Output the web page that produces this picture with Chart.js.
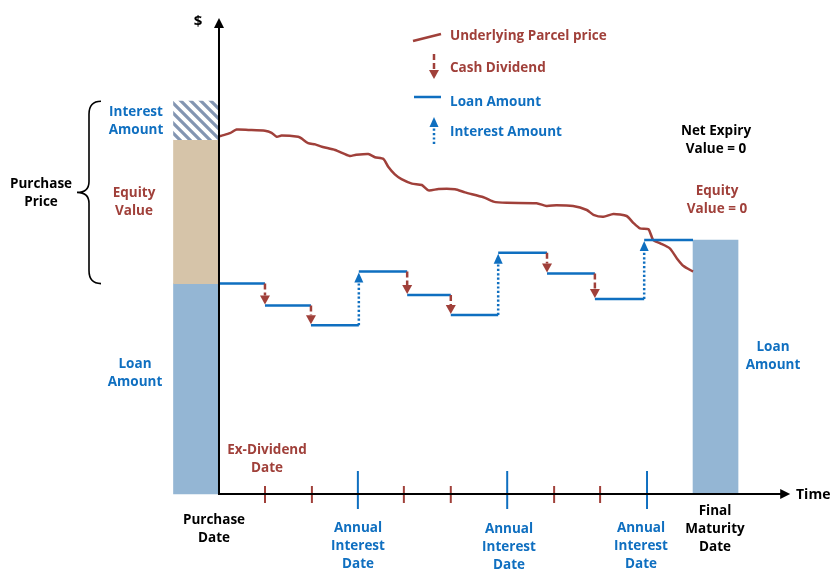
<!DOCTYPE html>
<html><head><meta charset="utf-8">
<script src="https://cdn.jsdelivr.net/npm/chart.js@4"></script>
<style>html,body{margin:0;padding:0;background:#fff}#wrap{position:absolute;left:0;top:0;width:830px;height:570px}</style>
</head><body><div id="wrap"><canvas id="c"></canvas></div>
<script>
// ---- data (x: time periods from purchase date, y: $ value) ----
const priceX = [0,0.06,0.23,0.37,0.62,0.97,1.11,1.22,1.32,1.67,1.74,1.88,2.03,2.17,2.45,2.76,2.87,3.15,3.29,3.47,3.57,3.71,3.85,4.07,4.28,4.42,4.63,4.98,5.19,5.58,5.79,6.07,6.70,6.91,7.12,7.47,7.76,7.90,8.11,8.32,8.60,8.74,8.88,9.06,9.16,9.30,9.51,9.66,9.80,10.0];
const priceY = [89.4,89.6,90.2,91.1,91.0,90.8,90.3,89.3,89.6,89.3,88.9,87.7,87.4,86.8,86.0,84.5,84.75,85.0,84.2,83.75,81.8,79.9,78.7,77.6,77.25,75.9,76.25,76.2,75.4,74.2,73.1,72.8,72.7,72.0,72.2,72.0,71.0,69.8,69.3,70.0,69.5,67.8,66.4,66.2,63.5,62.7,61.4,58.9,57.0,55.6];
const loanStepX = [0,0.97,1.94,2.95,3.97,4.89,5.89,6.92,7.93,8.97,10];
const loanLevels = [52.6,47.1,42.2,55.6,49.75,44.75,60.3,55.1,48.75,63.5];
const stepEvents = ['D','D','I','D','D','I','D','D','I'];
const dividendTicks = [0.97,1.96,3.9,4.89,7.07,8.04];
const interestTicks = [2.93,6.08,9.03];
const barCenters = [-0.485,-0.485,-0.485,10.475];
const barRanges = [[0,52.6],[52.6,88.6],[88.6,98.2],[0,63.5]];
const xAxisEnd = 12.05, yAxisEnd = 119;

const BROWN = '#A0403A', BLUE = '#0F6FC0', LOANBAR = '#94B6D4', TAN = '#D6C4A9';
const FONT = 'bold 13.5px "Open Sans"';

function hatch(){
  const c=document.createElement('canvas'); c.width=c.height=10;
  const g=c.getContext('2d'); g.fillStyle='#fff'; g.fillRect(0,0,10,10);
  g.strokeStyle='#8395B2'; g.lineWidth=3.2; g.beginPath();
  g.moveTo(-3,-3); g.lineTo(13,13); g.moveTo(-3,7); g.lineTo(3,13); g.moveTo(7,-3); g.lineTo(13,3); g.stroke();
  return g.createPattern(c,'repeat');
}

const loanPts = [];
for (let i=0;i<loanLevels.length;i++){
  loanPts.push({x:loanStepX[i],y:loanLevels[i]},{x:loanStepX[i+1],y:loanLevels[i]});
  if (i<loanLevels.length-1) loanPts.push({x:loanStepX[i+1],y:null});
}

function arrow(ctx,x,y1,y2,color,dash,headW,headH){
  const dir = y2>y1?1:-1;
  ctx.save(); ctx.strokeStyle=color; ctx.fillStyle=color; ctx.lineWidth=2.5; ctx.setLineDash(dash);
  ctx.beginPath(); ctx.moveTo(x,y1); ctx.lineTo(x,y2-dir*headH); ctx.stroke();
  ctx.setLineDash([]); ctx.beginPath(); ctx.moveTo(x,y2); ctx.lineTo(x-headW/2,y2-dir*headH); ctx.lineTo(x+headW/2,y2-dir*headH); ctx.closePath(); ctx.fill();
  ctx.restore();
}
function text(ctx,lines,cx,cy,color,align,font){
  ctx.save(); ctx.font=font||FONT; ctx.fillStyle=color; ctx.textAlign=align||'center'; ctx.textBaseline='middle';
  lines.forEach((l,i)=>ctx.fillText(l,cx,cy+i*18)); ctx.restore();
}

const overlay = {
  id:'overlay',
  afterDatasetsDraw(chart){
    const {ctx, scales:{x,y}} = chart;
    const px=v=>x.getPixelForValue(v), py=v=>y.getPixelForValue(v);
    const x0=px(0), y0=py(0);
    ctx.save(); ctx.lineWidth=2;
    ctx.strokeStyle=BROWN; dividendTicks.forEach(t=>{ctx.beginPath();ctx.moveTo(px(t),y0-8);ctx.lineTo(px(t),y0+9);ctx.stroke();});
    ctx.strokeStyle=BLUE; interestTicks.forEach(t=>{ctx.beginPath();ctx.moveTo(px(t),y0-23);ctx.lineTo(px(t),y0+15);ctx.stroke();});
    ctx.restore();
    for (let i=1;i<loanLevels.length;i++){
      const xs=px(loanStepX[i]);
      if (stepEvents[i-1]==='D') arrow(ctx,xs,py(loanLevels[i-1]),py(loanLevels[i])-1,BROWN,[6,3],10,9);
      else arrow(ctx,xs,py(loanLevels[i-1]),py(loanLevels[i])+1,BLUE,[2.2,2.2],9,10);
    }
    ctx.save(); ctx.strokeStyle='#000'; ctx.fillStyle='#000'; ctx.lineWidth=2;
    const yt=py(yAxisEnd), xe=px(xAxisEnd);
    ctx.beginPath(); ctx.moveTo(x0,y0+1); ctx.lineTo(x0,yt+8); ctx.stroke();
    ctx.beginPath(); ctx.moveTo(x0,yt); ctx.lineTo(x0-5,yt+10); ctx.lineTo(x0+5,yt+10); ctx.closePath(); ctx.fill();
    ctx.beginPath(); ctx.moveTo(x0-1,y0); ctx.lineTo(xe-8,y0); ctx.stroke();
    ctx.beginPath(); ctx.moveTo(xe,y0); ctx.lineTo(xe-10,y0-5); ctx.lineTo(xe-10,y0+5); ctx.closePath(); ctx.fill();
    const top=py(barRanges[2][1]), bot=py(barRanges[0][1]), mid=(top+bot)/2;
    const xr=101, xv=89, xt=77;
    ctx.lineWidth=1.6; ctx.beginPath();
    ctx.moveTo(xr,top); ctx.quadraticCurveTo(xv,top,xv,top+13); ctx.lineTo(xv,mid-11);
    ctx.quadraticCurveTo(xv,mid,xt,mid); ctx.quadraticCurveTo(xv,mid,xv,mid+11);
    ctx.lineTo(xv,bot-13); ctx.quadraticCurveTo(xv,bot,xr,bot); ctx.stroke();
    ctx.restore();
    ctx.save(); ctx.lineWidth=2.5;
    ctx.strokeStyle=BROWN; ctx.beginPath(); ctx.moveTo(413,41); ctx.lineTo(441,34); ctx.stroke();
    ctx.strokeStyle=BLUE; ctx.beginPath(); ctx.moveTo(414,97); ctx.lineTo(441,97); ctx.stroke();
    ctx.restore();
    arrow(ctx,434,54,79,BROWN,[6,3],10,9);
    arrow(ctx,434,144,117,BLUE,[2.2,2.2],9,10);
    text(ctx,['Underlying Parcel price'],450,36,BROWN,'left');
    text(ctx,['Cash Dividend'],450,68,BROWN,'left');
    text(ctx,['Loan Amount'],450,102,BLUE,'left');
    text(ctx,['Interest Amount'],450,132,BLUE,'left');
    text(ctx,['$'],198,22,'#000','center','bold 15px "Open Sans"');
    text(ctx,['Time'],796,495,'#000','left','bold 14px "Open Sans"');
    text(ctx,['Interest','Amount'],136,112,BLUE);
    text(ctx,['Equity','Value'],134,193,BROWN);
    text(ctx,['Purchase','Price'],41,184,'#000');
    text(ctx,['Loan','Amount'],135,364,BLUE);
    text(ctx,['Ex-Dividend','Date'],267,450,BROWN);
    text(ctx,['Purchase','Date'],214,520,'#000');
    text(ctx,['Annual','Interest','Date'],358,528,BLUE);
    text(ctx,['Annual','Interest','Date'],509,529,BLUE);
    text(ctx,['Annual','Interest','Date'],641,528,BLUE);
    text(ctx,['Final','Maturity','Date'],715,511,'#000');
    text(ctx,['Net Expiry','Value = 0'],716,131,'#000');
    text(ctx,['Equity','Value = 0'],717,191,BROWN);
    text(ctx,['Loan','Amount'],773,347,BLUE);
  }
};

const pat = hatch();
new Chart(document.getElementById('c'),{
  type:'line',
  data:{datasets:[
    {type:'bar',order:3,data:barCenters.map((c,i)=>({x:c,y:barRanges[i]})),
     backgroundColor:[LOANBAR,TAN,pat,LOANBAR],borderWidth:0,barThickness:45},
    {type:'line',order:2,data:priceX.map((v,i)=>({x:v,y:priceY[i]})),borderColor:BROWN,borderWidth:2.5,pointRadius:0,tension:0.2,fill:false},
    {type:'line',order:1,data:loanPts,borderColor:BLUE,borderWidth:2.5,pointRadius:0,spanGaps:false,fill:false}
  ]},
  options:{
    responsive:true,maintainAspectRatio:false,animation:false,
    layout:{padding:0},
    plugins:{legend:{display:false},tooltip:{enabled:false}},
    scales:{
      x:{type:'linear',display:false,min:-4.62,max:12.89,offset:false},
      y:{type:'linear',display:false,min:-19,max:123.5}
    }
  },
  plugins:[overlay]
});
</script></body></html>
